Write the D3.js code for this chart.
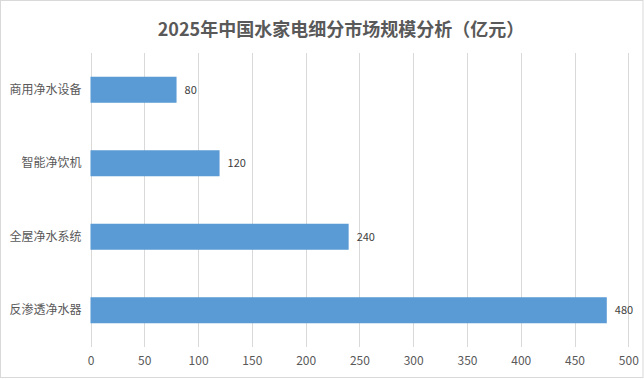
<!DOCTYPE html>
<html><head><meta charset="utf-8">
<script src="https://cdn.jsdelivr.net/npm/d3@7"></script>
<style>
html,body{margin:0;padding:0;background:#fff;}
svg{display:block;font-family:"Microsoft YaHei","Noto Sans CJK SC",sans-serif;}
</style></head>
<body><svg id="chart" width="644" height="379"></svg>
<script>
const categories = ["商用净水设备","智能净饮机","全屋净水系统","反渗透净水器"];
const values = [80,120,240,480];
const xTicks = [0,50,100,150,200,250,300,350,400,450,500];
const title = "2025年中国水家电细分市场规模分析（亿元）";

const svg = d3.select("#chart");
const W = 644, H = 379;
const m = {left:90.5, right:15.7, top:53, bottom:32};

svg.append("rect").attr("x",0.5).attr("y",0.5).attr("width",W-1.5).attr("height",H-2)
  .attr("fill","#fff").attr("stroke","#d9d9d9");

const x = d3.scaleLinear().domain([0,500]).range([m.left, W-m.right]);
const y = d3.scaleBand().domain(categories).range([m.top, H-m.bottom])
  .paddingInner(0.646).paddingOuter(0.323);

// gridlines
svg.append("g").selectAll("line").data(xTicks).join("line")
  .attr("x1",d=>Math.round(x(d))+0.5).attr("x2",d=>Math.round(x(d))+0.5)
  .attr("y1",m.top).attr("y2",H-m.bottom)
  .attr("stroke","#d9d9d9").attr("stroke-width",1);

// x axis labels
const xa = svg.append("g").attr("transform",`translate(0,${H-m.bottom})`)
  .call(d3.axisBottom(x).tickValues(xTicks).tickSize(0).tickPadding(9));
xa.select(".domain").remove();
xa.selectAll("text").attr("fill","#595959").attr("font-size","12px")
  .style("font-family",'"Microsoft YaHei","Noto Sans CJK SC",sans-serif');

// y axis labels
const ya = svg.append("g").attr("transform",`translate(${m.left},0)`)
  .call(d3.axisLeft(y).tickSize(0).tickPadding(9));
ya.select(".domain").remove();
ya.selectAll("text").attr("fill","#595959").attr("font-size","12px")
  .style("font-family",'"Microsoft YaHei","Noto Sans CJK SC",sans-serif');

// bars
svg.append("g").selectAll("rect").data(categories).join("rect")
  .attr("x",x(0)).attr("y",d=>y(d))
  .attr("width",(d,i)=>x(values[i])-x(0)).attr("height",y.bandwidth())
  .attr("fill","#5b9bd5");

// value labels
svg.append("g").selectAll("text").data(categories).join("text")
  .attr("x",(d,i)=>x(values[i])+8).attr("y",d=>y(d)+y.bandwidth()/2)
  .attr("dy","0.35em").attr("font-size","11px").attr("fill","#404040")
  .text((d,i)=>values[i]);

// title
svg.append("text").attr("x",341).attr("y",36).attr("text-anchor","middle")
  .attr("font-size","18px").attr("font-weight","bold").attr("fill","#595959")
  .text(title);
</script></body></html>
